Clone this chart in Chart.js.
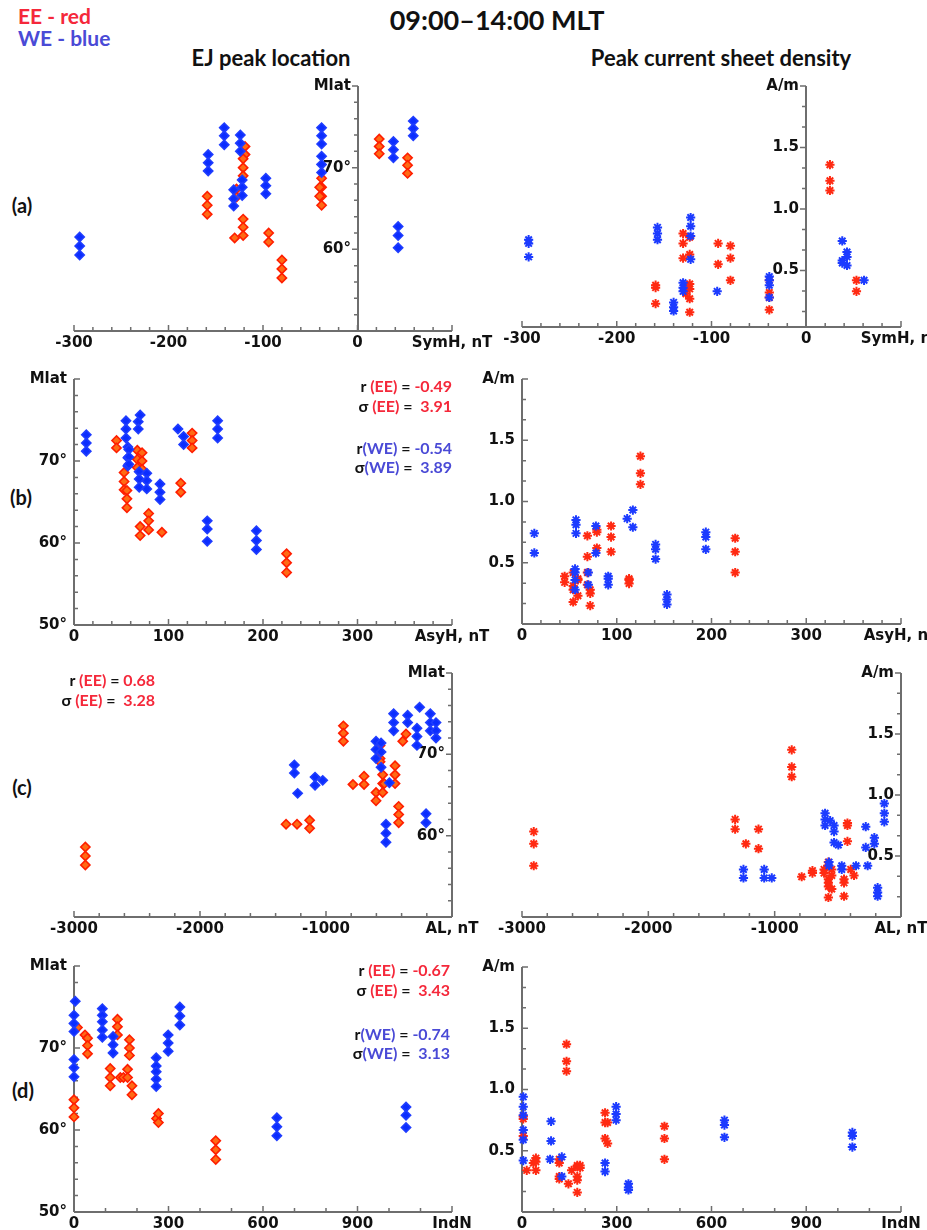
<!DOCTYPE html>
<html>
<head>
<meta charset="utf-8">
<script src="https://cdn.jsdelivr.net/npm/chart.js@4.4.1/dist/chart.umd.min.js"></script>
<style>
  body { margin: 0; background: #fff; overflow: hidden; }
  #page { position: relative; width: 927px; height: 1230px; font-family: Lato, sans-serif; font-weight: bold; color: #111; }
  .t { position: absolute; white-space: nowrap; line-height: 1; }
  .c { transform: translate(-50%, -50%); }
  .r { transform: translateY(-50%); }
  canvas { position: absolute; }
  .red { color: #f5283a; }
  .blue { color: #4a4ad6; }
</style>
</head>
<body>
<div id="page">
  <div class="t c" style="left:497px;top:19px;font-size:27px">09:00–14:00 MLT</div>
  <div class="t red r" style="left:18px;top:15px;font-size:21px">EE - red</div>
  <div class="t blue r" style="left:18px;top:37px;font-size:21px">WE - blue</div>
  <div class="t c" style="left:271px;top:58px;font-size:22px">EJ peak location</div>
  <div class="t c" style="left:721px;top:58px;font-size:22px">Peak current sheet density</div>
  <div class="t c" style="left:22px;top:205px;font-size:20px">(a)</div>
  <div class="t c" style="left:21px;top:497px;font-size:20px">(b)</div>
  <div class="t c" style="left:22px;top:787px;font-size:20px">(c)</div>
  <div class="t c" style="left:23px;top:1090px;font-size:20px">(d)</div>
</div>
<script>
// ---- data: x value of each stack, then the values in that stack ----
// (a) SymH, nT
const symhWE = [-294, -158, -141, -131, -124, -122, -97, -38, 38, 43, 59];
const mlatSymhWE = [[61.5,60.4,59.3],[71.6,70.6,69.6],[74.9,73.9,72.8],[67.3,66.2,65.3],[74.0,73.0,72.0],[68.5,67.6,66.6],[68.7,67.8,66.8],[74.9,73.9,72.9,71.4,70.4,69.4],[73.2,72.2,71.2],[62.8,61.7,60.2],[75.7,74.8,73.9]];
const symhEE = [-159, -128, -130, -119, -121, -121, -94, -80, -38, -40, 23, 53];
const mlatSymhEE = [[66.5,65.4,64.3],[67.4,66.4],[61.4],[72.6,71.6],[71.1,70.0,69.0],[63.7,62.7,61.7],[62.0,60.9],[58.7,57.6,56.5],[68.7,67.6,66.5,65.4],[67.6,66.5],[73.5,72.6,71.7],[71.2,70.3,69.3]];
const symhWEj = [-293, -157, -140, -130, -122, -94, -39, 38, 43, 61];
const jSymhWE = [[0.75,0.72,0.61],[0.85,0.80,0.75],[0.24,0.20,0.17],[0.40,0.36,0.33],[0.93,0.86,0.78,0.59],[0.33],[0.45,0.42,0.38,0.28],[0.74,0.58,0.56],[0.65,0.61,0.54],[0.42]];
const symhEEj = [-159, -130, -123, -127, -93, -80, -39, 25, 53];
const jSymhEE = [[0.38,0.36,0.23],[0.80,0.72,0.60],[0.77,0.63,0.39,0.35,0.27,0.16],[0.36,0.31],[0.72,0.55],[0.70,0.60,0.42],[0.42,0.32,0.28,0.18],[1.36,1.23,1.15],[0.42,0.33]];

// (b) AsyH, nT
const asyhWE = [13, 55, 57, 58, 68, 70, 69, 77, 91, 110, 116, 141, 152, 193];
const mlatAsyhWE = [[73.2,72.2,71.2],[74.9,73.9,72.8],[71.7,70.4,69.4],[71.4,70.5,69.6],[74.8,73.9],[75.6],[68.7,67.8,66.8],[68.5,67.6,66.6],[67.2,66.2,65.3],[73.9],[73.0,72.0],[62.7,61.7,60.2],[74.9,73.9,72.8],[61.5,60.3,59.2]];
const asyhEE = [45, 53, 56, 67, 72, 70, 79, 93, 113, 125, 225];
const mlatAsyhEE = [[72.5,71.6],[68.6,67.5,66.5],[66.4,65.4,64.3],[71.3,70.2,69.2],[71.0,70.0,69.0],[62.0,60.9],[63.6,62.7,61.6],[61.3],[67.3,66.2],[73.4,72.5,71.6],[58.7,57.6,56.4]];
const asyhWEj = [13, 57, 56, 70, 78, 91, 111, 117, 141, 153, 194];
const jAsyhWE = [[0.74,0.58],[0.85,0.81,0.74],[0.45,0.42,0.36,0.28],[0.42,0.32],[0.80,0.58],[0.39,0.37,0.32],[0.86],[0.93,0.79],[0.65,0.61,0.53],[0.24,0.20,0.16],[0.75,0.71,0.61]];
const asyhEEj = [45, 54, 59, 69, 72, 79, 94, 113, 125, 225];
const jAsyhEE = [[0.39,0.34],[0.42,0.31,0.28,0.18],[0.37,0.36,0.23],[0.72,0.55,0.42,0.32],[0.28,0.25,0.15],[0.77,0.75,0.62],[0.80,0.71,0.59],[0.37,0.36,0.33],[1.37,1.23,1.14],[0.70,0.59,0.42]];

// (c) AL, nT
const alWE = [-1251, -1225, -1087, -1026, -603, -563, -524, -497, -463, -352, -278, -257, -206, -172, -127];
const mlatAlWE = [[68.7,67.7],[65.2],[67.2,66.2],[66.8],[71.6,70.6,69.5],[71.4,70.3,68.4],[61.4,60.3,59.2],[66.5],[75.0,73.9,72.9],[74.8,73.9],[73.2,72.2,71.1],[75.8],[62.7,61.6],[75.0,73.9,72.9],[73.9,72.9,72.0]];
const alEE = [-2910, -1317, -1230, -1130, -862, -786, -698, -603, -571, -550, -537, -452, -423, -391, -365];
const mlatAlEE = [[58.6,57.5,56.4],[61.4],[61.4],[61.9,60.9],[73.5,72.6,71.6],[66.3],[67.3,66.3],[65.3,64.3],[71.1,70.3,69.5,69.1],[67.5,66.4,65.3],[66.4],[68.6,67.5,66.4],[63.6,62.6,61.6],[71.6],[72.5]];
const alWEj = [-1247, -1083, -1023, -601, -561, -530, -496, -570, -469, -356, -279, -264, -211, -185, -132];
const jAlWE = [[0.39,0.32],[0.39,0.32],[0.32],[0.85,0.80,0.75],[0.79],[0.75,0.70,0.61],[0.59],[0.45,0.42],[0.42,0.39],[0.42],[0.74,0.57],[0.42],[0.65,0.60],[0.24,0.20,0.17],[0.93,0.85,0.78]];
const alEEj = [-2907, -1313, -1228, -1128, -865, -786, -701, -609, -575, -548, -451, -424, -398, -372];
const jAlEE = [[0.70,0.60,0.42],[0.80,0.72],[0.60],[0.72,0.56],[1.37,1.23,1.15],[0.33],[0.38,0.36],[0.39,0.36],[0.45,0.42,0.31,0.28,0.25,0.16],[0.39,0.34,0.23],[0.31,0.28,0.17],[0.77,0.75,0.62],[0.39],[0.34]];

// (d) IndN
const indnWE = [4, 0, 90, 124, 261, 299, 336, 644, 1054];
const mlatIndnWE = [[75.7],[74.0,73.0,72.0,68.6,67.6,66.5],[74.8,74.0,73.2,72.2,71.3],[71.4,70.4,69.4],[68.8,67.8,67.1,66.2,65.3],[71.6,70.6,69.6],[75.0,73.9,72.8],[61.5,60.4,59.3],[62.8,61.8,60.3]];
const indnEE = [0, 11, 35, 43, 115, 138, 147, 157, 170, 176, 184, 262, 268, 450];
const mlatIndnEE = [[63.7,62.7,61.6],[72.5],[71.6],[71.2,70.3,69.3],[67.5,66.4,65.4],[73.5,72.6,71.6],[66.4],[66.4],[67.4,66.4],[71.0,70.0,69.1],[65.4,64.3],[61.4],[62.0,60.9],[58.7,57.6,56.4]];
const indnWEj = [4, 92, 89, 126, 263, 298, 337, 641, 1046];
const jIndnWE = [[0.94,0.86,0.79,0.67,0.59,0.42],[0.74,0.58],[0.43],[0.45,0.29],[0.40,0.33],[0.86,0.80,0.75],[0.23,0.20,0.18],[0.75,0.71,0.61],[0.65,0.62,0.53]];
const indnEEj = [4, 15, 36, 44, 118, 141, 147, 157, 175, 184, 263, 271, 451];
const jIndnEE = [[0.78,0.76,0.62],[0.34],[0.40],[0.44,0.41,0.34],[0.43,0.40,0.29,0.27],[1.37,1.23,1.15],[0.23],[0.34],[0.38,0.37,0.29,0.26,0.16],[0.38,0.36],[0.81,0.73,0.60],[0.73,0.56],[0.70,0.60,0.43]];

// correlation / sigma printed on the latitude panels
const statsB = [['EE', '-0.49', '3.91'], ['WE', '-0.54', '3.89']];
const statsC = [['EE', '0.68', '3.28']];
const statsD = [['EE', '-0.67', '3.43'], ['WE', '-0.74', '3.13']];

const page = document.getElementById('page');

function pts(xs, ys) {
  return xs.flatMap((x, i) => ys[i].map(y => ({x: x, y: y})));
}

function diamonds(xs, ys, we) {
  return {
    data: pts(xs, ys), pointStyle: 'rectRot', pointRadius: 4.6, borderWidth: 1.6,
    backgroundColor: we ? '#0b2dff' : '#ff6a14', borderColor: we ? '#1f3dff' : '#ff1e00', clip: false
  };
}

function stars(xs, ys, we) {
  return {
    data: pts(xs, ys), pointStyle: 'star', pointRadius: 4.6, borderWidth: 2,
    backgroundColor: we ? '#1c3bff' : '#ff2a12', borderColor: we ? '#1c3bff' : '#ff2a12', clip: false
  };
}

// axes drawn from the chart's own scales, crossing where the original has them
const axesPlugin = {
  id: 'axes',
  beforeDatasetsDraw(chart, args, o) {
    const ctx = chart.ctx, xs = chart.scales.x, ys = chart.scales.y;
    const ax = Math.round(xs.getPixelForValue(o.cross)), ay = Math.round(ys.getPixelForValue(ys.min));
    const dir = o.cross === xs.min ? 1 : -1;
    const major = (v, m) => Math.abs(v / m - Math.round(v / m)) < 1e-6;
    ctx.save();
    ctx.strokeStyle = '#6e6e6e';
    ctx.lineWidth = 2;
    ctx.beginPath();
    ctx.moveTo(xs.left, ay); ctx.lineTo(xs.right, ay);
    ctx.moveTo(ax, ys.top); ctx.lineTo(ax, ay);
    ctx.stroke();

    ctx.lineWidth = 1.5;
    ctx.font = 'bold 15px "DejaVu Sans"';
    ctx.fillStyle = '#111';
    ctx.beginPath();
    ctx.textAlign = 'center';
    ctx.textBaseline = 'top';
    for (let i = 0; ; i++) {
      const v = xs.min + i * o.xMinor;
      if (v > xs.max + 1e-9) break;
      const px = xs.getPixelForValue(v), big = major(v, o.xMajor);
      ctx.moveTo(px, ay); ctx.lineTo(px, ay - (big ? 6 : 4));
      if (Math.abs(v - xs.max) < 1e-9) ctx.fillText(o.xTitle, px, ay + 5);
      else if (big) ctx.fillText(String(v), px, ay + 5);
    }
    ctx.textAlign = 'right';
    ctx.textBaseline = 'middle';
    for (let i = 0; ; i++) {
      const v = ys.max - i * o.yMinor;
      if (v < ys.min - 1e-9) break;
      const py = ys.getPixelForValue(v), big = major(v, o.yMajor);
      ctx.moveTo(ax, py); ctx.lineTo(ax + dir * (big ? 6 : 4), py);
      if (i === 0) ctx.fillText(o.yTitle, ax - 7, py);
      else if (big && (v > ys.min + 1e-6 || o.yMinLabel)) ctx.fillText(o.yFmt(v), ax - 7, py);
    }
    ctx.stroke();
    ctx.restore();
  }
};

// area = plot box on the page [left, top, right, bottom]
function addPanel(area, xr, yr, ax, sets) {
  const pad = {left: 70, top: 30, right: 45, bottom: 30};
  const cv = document.createElement('canvas');
  cv.width = area[2] - area[0] + pad.left + pad.right;
  cv.height = area[3] - area[1] + pad.top + pad.bottom;
  cv.style.left = (area[0] - pad.left) + 'px';
  cv.style.top = (area[1] - pad.top) + 'px';
  page.appendChild(cv);
  new Chart(cv, {
    type: 'scatter',
    data: { datasets: sets },
    options: {
      responsive: false,
      animation: false,
      layout: { padding: pad },
      scales: {
        x: { type: 'linear', display: false, min: xr[0], max: xr[1] },
        y: { type: 'linear', display: false, min: yr[0], max: yr[1] }
      },
      plugins: { legend: { display: false }, tooltip: { enabled: false }, axes: ax }
    },
    plugins: [axesPlugin]
  });
}

const latAxis = (cross, xMinor, xMajor, xTitle, yMinLabel) => ({
  cross, xMinor, xMajor, xTitle, yMinor: 2, yMajor: 10, yTitle: 'Mlat', yMinLabel,
  yFmt: v => Math.round(v) + '°'
});
const jAxis = (cross, xMinor, xMajor, xTitle) => ({
  cross, xMinor, xMajor, xTitle, yMinor: 1 / 6, yMajor: 0.5, yTitle: 'A/m', yMinLabel: false,
  yFmt: v => v.toFixed(1)
});

addPanel([74, 86, 452, 331], [-300, 100], [50, 80], latAxis(0, 20, 100, 'SymH, nT', false),
  [diamonds(symhWE, mlatSymhWE, true), diamonds(symhEE, mlatSymhEE, false)]);
addPanel([522, 86, 901, 327], [-300, 100], [0.04, 2], jAxis(0, 20, 100, 'SymH, nT'),
  [stars(symhWEj, jSymhWE, true), stars(symhEEj, jSymhEE, false)]);

addPanel([74, 379, 452, 625], [0, 400], [50, 80], latAxis(0, 20, 100, 'AsyH, nT', true),
  [diamonds(asyhWE, mlatAsyhWE, true), diamonds(asyhEE, mlatAsyhEE, false)]);
addPanel([522, 379, 901, 624], [0, 400], [0, 2], jAxis(0, 20, 100, 'AsyH, nT'),
  [stars(asyhWEj, jAsyhWE, true), stars(asyhEEj, jAsyhEE, false)]);

addPanel([74, 673, 452, 917], [-3000, 0], [50, 80], latAxis(0, 200, 1000, 'AL, nT', false),
  [diamonds(alWE, mlatAlWE, true), diamonds(alEE, mlatAlEE, false)]);
addPanel([522, 673, 901, 917], [-3000, 0], [0, 2], jAxis(0, 200, 1000, 'AL, nT'),
  [stars(alWEj, jAlWE, true), stars(alEEj, jAlEE, false)]);

addPanel([74, 966, 452, 1212], [0, 1200], [50, 80], latAxis(0, 100, 300, 'IndN', true),
  [diamonds(indnWE, mlatIndnWE, true), diamonds(indnEE, mlatIndnEE, false)]);
addPanel([522, 967, 901, 1212], [0, 1200], [0, 2], jAxis(0, 100, 300, 'IndN'),
  [stars(indnWEj, jIndnWE, true), stars(indnEEj, jIndnEE, false)]);

// r / sigma text blocks, right-aligned at x
function statBlock(stats, x, ys) {
  stats.forEach((s, k) => {
    const cls = s[0] === 'EE' ? 'red' : 'blue';
    const gap = s[0] === 'EE' ? ' ' : '';
    const lines = [
      'r' + gap + '<span class="' + cls + '">(' + s[0] + ')</span> = <span class="' + cls + '">' + s[1] + '</span>',
      'σ' + gap + '<span class="' + cls + '">(' + s[0] + ')</span> = &nbsp;<span class="' + cls + '">' + s[2] + '</span>'
    ];
    lines.forEach((html, j) => {
      const d = document.createElement('div');
      d.className = 't r';
      d.style.right = (927 - x) + 'px';
      d.style.top = ys[k * 2 + j] + 'px';
      d.style.fontSize = '16px';
      d.innerHTML = html;
      page.appendChild(d);
    });
  });
}
statBlock(statsB, 452, [386, 406, 448, 467]);
statBlock(statsC, 155, [680, 700]);
statBlock(statsD, 450, [970, 990, 1034, 1053]);
</script>
</body>
</html>
